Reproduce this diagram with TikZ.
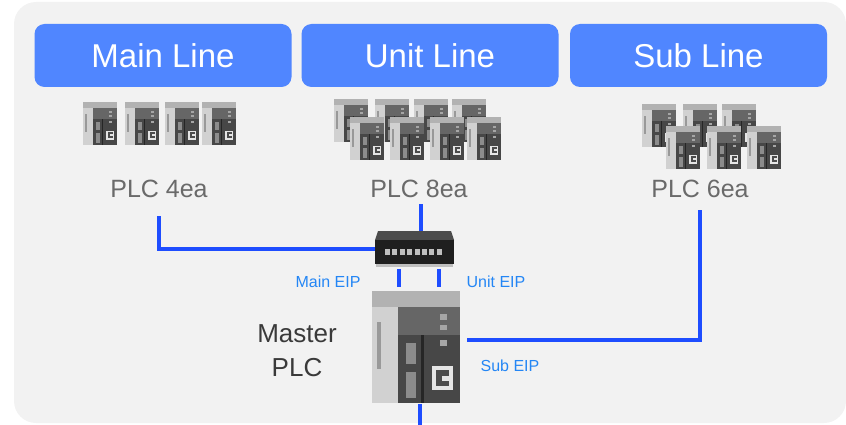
\documentclass[tikz,border=0pt]{standalone}
\usepackage{fontspec}
\setmainfont{Liberation Sans}
\usepackage{xcolor}
\usepackage{tikz}

\definecolor{bggray}{HTML}{F2F2F2}
\definecolor{headblue}{HTML}{5086FF}
\definecolor{netblue}{HTML}{1E4DFF}
\definecolor{eipblue}{HTML}{2486F5}
\definecolor{cntgray}{HTML}{6A6A6A}
\definecolor{mastergray}{HTML}{3A3A3A}

\tikzset{
  head/.style={fill=headblue, rounded corners=10pt, text=white, inner sep=0pt,
    minimum width=257pt, minimum height=63pt, font=\fontsize{33}{36}\selectfont},
  count/.style={text=cntgray, font=\fontsize{25}{28}\selectfont},
  eip/.style={text=eipblue, font=\fontsize{16}{18}\selectfont},
  net/.style={draw=netblue, line width=3.5pt},
  holder/.style={inner sep=0pt, outer sep=0pt},
  plc/.pic={
    \fill[black!18] (0,0) rectangle (34,43);
    \fill[black!30] (0,0) rectangle (34,6);
    \fill[black!72] (10,6) rectangle (34,43);
    \fill[black!60] (10,6) rectangle (34,17);
    \fill[black!85] (19,17) rectangle (20,43);
    \fill[black!40] (2,12) rectangle (3.5,30);
    \fill[black!45] (13,20) rectangle (17,28);
    \fill[black!45] (13,31) rectangle (17,41);
    \fill[black!35] (26,9) rectangle (29,11);
    \fill[black!35] (26,13) rectangle (29,15);
    \fill[black!35] (26,19) rectangle (29,21);
    \fill[black!10] (23,29) rectangle (31,38);
    \fill[black!70] (24.5,30.5) rectangle (29.5,36.5);
    \fill[black!10] (27,32.5) rectangle (29.5,34.5);
  },
  hub/.pic={
    \fill[black!70] (3,0) -- (76,0) -- (79,9) -- (0,9) -- cycle;
    \fill[black!88] (0,9) rectangle (79,33);
    \fill[black!25] (1,33) rectangle (78,36);
    \foreach \i in {0,...,7}
      \fill[black!25] (10+\i*7.4,18) rectangle ++(5,6);
  }
}

\begin{document}
\begin{tikzpicture}[x=1pt, y=-1pt]
\useasboundingbox (0,0) rectangle (846,425);
\fill[bggray, rounded corners=22pt] (14,2) rectangle (846,423);

% line headers
\node[head] (mainhd) at (163,55.5) {Main Line};
\node[head] (unithd) at (430,55.5) {Unit Line};
\node[head] (subhd) at (698.5,55.5) {Sub Line};

% remote PLCs
\foreach \x in {83,125,165,202}
  \pic at (\x,102) {plc};
\foreach \x in {334,375,414,452}
  \pic at (\x,99) {plc};
\foreach \x in {350,390,430,467}
  \pic at (\x,117) {plc};
\foreach \x in {642,683,722}
  \pic at (\x,104) {plc};
\foreach \x in {666,707,747}
  \pic at (\x,126) {plc};

\node[count] (plc4) at (159,189) {PLC 4ea};
\node[count] (plc8) at (419,189) {PLC 8ea};
\node[count] (plc6) at (700,189) {PLC 6ea};

% switch and master
\node[holder, minimum width=79pt, minimum height=36pt] (switch) at (414.5,249) {};
\pic at (switch.north west) {hub};
\node[holder, minimum width=88pt, minimum height=113pt] (master) at (416,347.5) {};
\pic[scale=2.6] at (master.north west) {plc};

\node[text=mastergray, align=center, font=\fontsize{26}{34}\selectfont] (mlabel) at (297,351) {Master\\PLC};
\node[eip] (maineip) at (328,282) {Main EIP};
\node[eip] (uniteip) at (496,282) {Unit EIP};
\node[eip] (subeip) at (510,366) {Sub EIP};

% network
\coordinate (bus) at (420,425);
\draw[net, shorten <=15pt] (plc4.south) |- (switch.west);
\draw[net, shorten <=3pt] ([xshift=2pt]plc8.south) -- ([xshift=2pt]plc8.south |- switch.north);
\draw[net, shorten <=9pt, shorten >=7pt] (plc6.south) |- ([yshift=7.5pt]master.east);
\draw[net, shorten <=2pt, shorten >=4pt] ([xshift=-15.5pt]switch.south) -- ([xshift=-15.5pt]switch.south |- master.north);
\draw[net, shorten <=2pt, shorten >=4pt] ([xshift=24.5pt]switch.south) -- ([xshift=24.5pt]switch.south |- master.north);
\draw[net] (bus |- master.south) -- (bus);
\end{tikzpicture}
\end{document}
